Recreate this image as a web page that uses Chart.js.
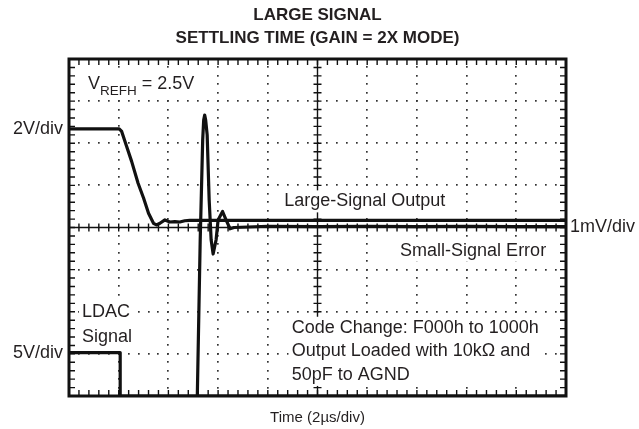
<!DOCTYPE html>
<html>
<head>
<meta charset="utf-8">
<script src="https://cdn.jsdelivr.net/npm/chart.js@4.4.1/dist/chart.umd.min.js"></script>
<style>
  html, body { margin: 0; padding: 0; background: #fff; }
  #wrap { width: 639px; height: 429px; position: relative; }
</style>
</head>
<body>
<div id="wrap"><canvas id="scope"></canvas></div>
<script>
// Scope screen: 10 x 8 divisions, every trace value below is in divisions
const X_DIVS = 10;
const Y_DIVS = 8;

// Large-signal output (2V/div)
const largeT = [0, 1.01, 1.06, 1.16, 1.26, 1.39, 1.50, 1.60, 1.70, 1.76, 1.83, 1.93, 2.03, 2.13, 2.23, 2.33, 2.43, 10];
const largeV = [6.34, 6.34, 6.28, 5.92, 5.57, 5.05, 4.70, 4.34, 4.10, 4.06, 4.10, 4.18, 4.13, 4.14, 4.13, 4.16, 4.17, 4.17];

// Small-signal error (1mV/div), off screen until the output gets close
const errT = [0, 2.58, 2.64, 2.69, 2.71, 2.73, 2.75, 2.78, 2.82, 2.86, 2.90, 2.96, 3.00, 3.09, 3.16, 3.24, 3.32, 4.0, 5.0, 6.0, 7.0, 8.0, 9.0, 10];
const errV = [-1, -0.1, 3.71, 6.08, 6.55, 6.67, 6.55, 6.20, 4.66, 3.71, 3.37, 3.71, 4.18, 4.38, 4.18, 3.97, 4.0, 4.03, 4.02, 4.03, 4.02, 4.03, 4.02, 4.02];

// LDAC signal (5V/div)
const ldacT = [0, 1.03, 1.03, 10];
const ldacV = [1.03, 1.03, 0, 0];

const FONT = "'Liberation Sans', Arial, Helvetica, sans-serif";
const INK = '#231f20';

function toPoints(ts, vs) {
    return ts.map((t, i) => ({ x: t, y: vs[i] }));
}

function trace(ts, vs) {
    return {
        data: toPoints(ts, vs),
        borderColor: '#111',
        borderWidth: 3.2,
        borderJoinStyle: 'round',
        pointRadius: 0,
        tension: 0,
        fill: false
    };
}

// block of lines on one white patch so the graticule dots stop around it
function textBlock(ctx, lines, px, pys, align) {
    ctx.textAlign = align || 'left';
    const w = Math.max(...lines.map(s => ctx.measureText(s).width));
    const left = align === 'right' ? px - w : px;
    const top = Math.min(...pys) - 11;
    const bottom = Math.max(...pys) + 11;
    ctx.fillStyle = '#fff';
    ctx.fillRect(left - 3, top, w + 6, bottom - top);
    ctx.fillStyle = INK;
    lines.forEach((s, i) => ctx.fillText(s, px, pys[i]));
}

// graticule: dotted divisions, centre cross with minor ticks, frame ticks
const graticule = {
    id: 'graticule',
    beforeDatasetsDraw(chart) {
        const { ctx, scales: { x, y } } = chart;
        ctx.save();
        ctx.fillStyle = '#333';
        // dotted lines
        for (let i = 1; i < X_DIVS; i++) {
            if (i === X_DIVS / 2) continue;
            const px = x.getPixelForValue(i);
            for (let j = 1; j < Y_DIVS * 5; j++) {
                ctx.fillRect(Math.round(px) - 1, Math.round(y.getPixelForValue(j / 5)) - 1, 1.7, 1.7);
            }
        }
        for (let j = 1; j < Y_DIVS; j++) {
            if (j === Y_DIVS / 2) continue;
            const py = y.getPixelForValue(j);
            for (let i = 1; i < X_DIVS * 5; i++) {
                ctx.fillRect(Math.round(x.getPixelForValue(i / 5)) - 1, Math.round(py) - 1, 1.7, 1.7);
            }
        }
        // centre cross
        const cx = x.getPixelForValue(X_DIVS / 2);
        const cy = y.getPixelForValue(Y_DIVS / 2);
        ctx.strokeStyle = '#111';
        ctx.lineWidth = 1.4;
        ctx.beginPath();
        ctx.moveTo(x.left, cy); ctx.lineTo(x.right, cy);
        ctx.moveTo(cx, y.top); ctx.lineTo(cx, y.bottom);
        for (let i = 1; i < X_DIVS * 5; i++) {
            const px = x.getPixelForValue(i / 5);
            ctx.moveTo(px, cy - 4); ctx.lineTo(px, cy + 4);
        }
        for (let j = 1; j < Y_DIVS * 5; j++) {
            const py = y.getPixelForValue(j / 5);
            ctx.moveTo(cx - 4, py); ctx.lineTo(cx + 4, py);
        }
        ctx.stroke();
        ctx.restore();
    },
    afterDatasetsDraw(chart) {
        const { ctx, scales: { x, y } } = chart;
        ctx.save();
        ctx.font = '18px ' + FONT;
        ctx.textBaseline = 'middle';

        // trace names
        textBlock(ctx, ['Large-Signal Output'], x.getPixelForValue(4.33), [y.getPixelForValue(4.62)]);
        textBlock(ctx, ['LDAC', 'Signal'], x.getPixelForValue(0.26), [y.getPixelForValue(2.0), y.getPixelForValue(1.41)]);
        textBlock(ctx, ['Small-Signal Error'], x.getPixelForValue(9.6), [y.getPixelForValue(3.45)], 'right');

        // test conditions
        const notes = ['Code Change: F000h to 1000h', 'Output Loaded with 10k\u03A9 and', '50pF to AGND'];
        const noteY = [1.62, 1.07, 0.5];
        textBlock(ctx, notes, x.getPixelForValue(4.48), noteY.map(v => y.getPixelForValue(v)));

        // reference voltage with subscript
        const vx0 = x.getPixelForValue(0.38);
        const vy = y.getPixelForValue(7.285);
        ctx.fillStyle = '#fff';
        ctx.fillRect(vx0 - 3, vy - 16, 112, 24);
        ctx.fillStyle = INK;
        ctx.textAlign = 'left';
        ctx.textBaseline = 'alphabetic';
        let vx = vx0;
        ctx.fillText('V', vx, vy);
        vx += ctx.measureText('V').width;
        ctx.font = '13.5px ' + FONT;
        ctx.fillText('REFH', vx, vy + 5.5);
        vx += ctx.measureText('REFH').width;
        ctx.font = '18px ' + FONT;
        ctx.fillText(' = 2.5V', vx, vy);

        // channel scales at the edges
        ctx.textBaseline = 'middle';
        ctx.textAlign = 'right';
        ctx.fillText('2V/div', x.left - 6, y.getPixelForValue(largeV[0]));
        ctx.fillText('5V/div', x.left - 6, y.getPixelForValue(ldacV[0]));
        ctx.textAlign = 'left';
        ctx.fillText('1mV/div', x.right + 4, y.getPixelForValue(Y_DIVS / 2));

        // frame and its minor ticks
        ctx.strokeStyle = '#111';
        ctx.lineWidth = 1.4;
        ctx.beginPath();
        for (let i = 1; i < X_DIVS * 5; i++) {
            const px = x.getPixelForValue(i / 5);
            ctx.moveTo(px, y.top); ctx.lineTo(px, y.top + 6);
            ctx.moveTo(px, y.bottom); ctx.lineTo(px, y.bottom - 6);
        }
        for (let j = 1; j < Y_DIVS * 5; j++) {
            const py = y.getPixelForValue(j / 5);
            ctx.moveTo(x.left, py); ctx.lineTo(x.left + 6, py);
            ctx.moveTo(x.right, py); ctx.lineTo(x.right - 6, py);
        }
        ctx.stroke();
        ctx.lineWidth = 3;
        ctx.strokeRect(x.left, y.top, x.right - x.left, y.bottom - y.top);
        ctx.restore();
    }
};

new Chart(document.getElementById('scope'), {
    type: 'line',
    data: {
        datasets: [trace(largeT, largeV), trace(errT, errV), trace(ldacT, ldacV)]
    },
    options: {
        responsive: true,
        maintainAspectRatio: false,
        animation: false,
        events: [],
        layout: { padding: { left: 69, right: 73, top: 0, bottom: 0 } },
        scales: {
            x: { type: 'linear', min: 0, max: X_DIVS, display: false },
            y: { type: 'linear', min: 0, max: Y_DIVS, display: false }
        },
        plugins: {
            legend: { display: false },
            tooltip: { enabled: false },
            title: {
                display: true,
                text: ['LARGE SIGNAL', 'SETTLING TIME (GAIN = 2X MODE)'],
                color: INK,
                font: { family: FONT, size: 17, weight: 'bold', lineHeight: 1.353 },
                padding: { top: 3.5, bottom: 9.5 }
            },
            subtitle: {
                display: true,
                position: 'bottom',
                text: 'Time (2\u00B5s/div)',
                color: INK,
                font: { family: FONT, size: 15, lineHeight: 1.2 },
                padding: { top: 13, bottom: 2 }
            }
        }
    },
    plugins: [graticule]
});
</script>
</body>
</html>
